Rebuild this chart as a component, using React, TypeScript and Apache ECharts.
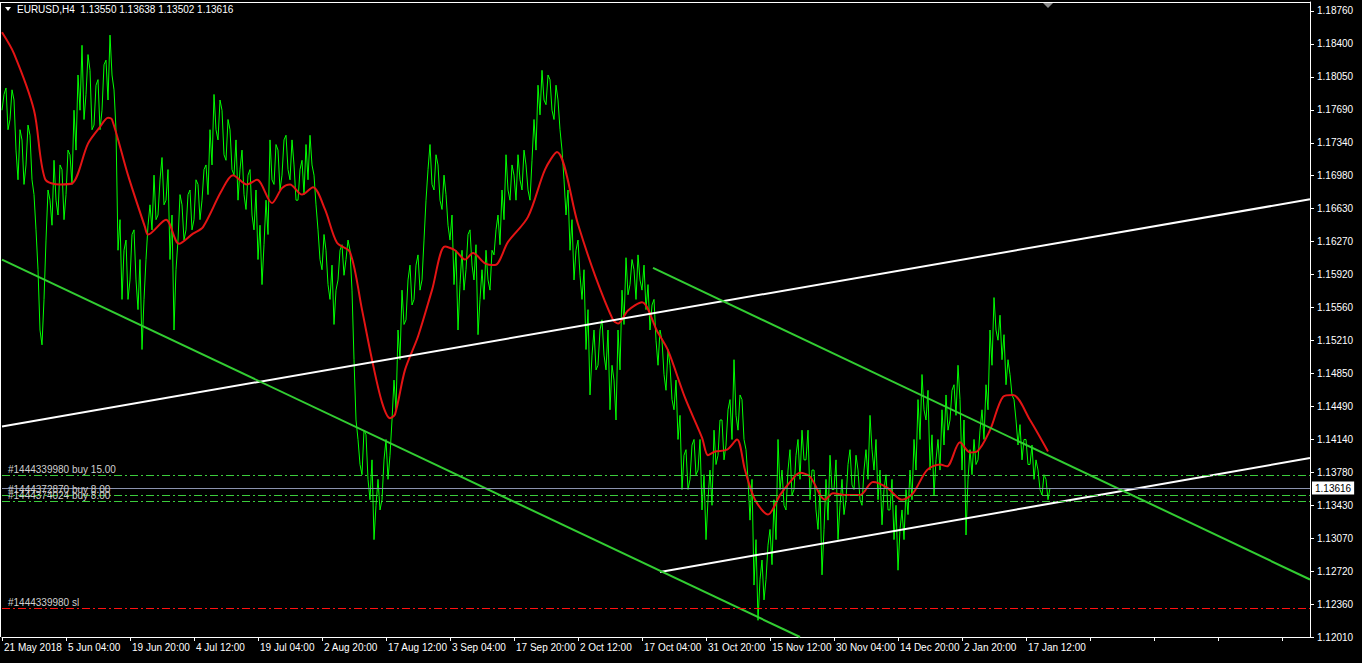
import React, { useEffect, useRef } from 'react';
import * as echarts from 'echarts';

const HEADER = 'EURUSD,H4  1.13550 1.13638 1.13502 1.13616';
const BID = 1.13616;
const BID_LABEL = '1.13616';
const BAR_STEP = 4;
const LAST_BAR = 1308;
const TIME_LABEL_EVERY = 64;

// H4 closes at bars 0, 4, 8, ...
const closes = [
  1.1769, 1.1793, 1.1759, 1.1780, 1.1694, 1.1737, 1.1710, 1.1742, 1.1678, 1.1597, 1.1516, 1.1629,
  1.1672, 1.1715, 1.1656, 1.1705, 1.1678, 1.1721, 1.1769, 1.1807, 1.1839, 1.1786,
  1.1812, 1.1753, 1.1802, 1.1769, 1.1823, 1.1850, 1.1791,
  1.1618, 1.1565, 1.1629, 1.1586, 1.1640, 1.1554, 1.1511, 1.1608,
  1.1667, 1.1699, 1.1656, 1.1718, 1.1672, 1.1608, 1.1532,
  1.1629, 1.1667, 1.1640, 1.1683, 1.1651, 1.1689, 1.1672, 1.1710, 1.1748,
  1.1786, 1.1737, 1.1769, 1.1715, 1.1748, 1.1699,
  1.1672, 1.1726, 1.1662, 1.1705, 1.1640, 1.1608, 1.1581, 1.1672, 1.1737, 1.1689, 1.1726, 1.1699,
  1.1742, 1.1694, 1.1710, 1.1672, 1.1715, 1.1732, 1.1742, 1.1699,
  1.1640, 1.1597, 1.1618, 1.1565, 1.1538,
  1.1586, 1.1624, 1.1608, 1.1618,
  1.1500, 1.1414, 1.1376, 1.1419, 1.1349, 1.1306,
  1.1371, 1.1349, 1.1414, 1.1397, 1.1478, 1.1532,
  1.1575, 1.1543, 1.1602, 1.1565, 1.1613, 1.1586,
  1.1672, 1.1732, 1.1683, 1.1710, 1.1662, 1.1678,
  1.1629, 1.1581, 1.1532, 1.1618, 1.1597, 1.1640, 1.1586, 1.1527, 1.1597,
  1.1618, 1.1575, 1.1613,
  1.1656, 1.1683, 1.1721, 1.1672, 1.1699, 1.1721, 1.1683, 1.1710, 1.1672,
  1.1759, 1.1796, 1.1812, 1.1775, 1.1802, 1.1759, 1.1780,
  1.1726, 1.1656, 1.1618, 1.1586, 1.1629,
  1.1565, 1.1511, 1.1462, 1.1532, 1.1494, 1.1543, 1.1489, 1.1446, 1.1478, 1.1532,
  1.1575, 1.1610, 1.1581, 1.1597, 1.1613, 1.1575, 1.1554,
  1.1532, 1.1565, 1.1494, 1.1521, 1.1467, 1.1494, 1.1446, 1.1414,
  1.1360, 1.1403, 1.1371, 1.1414, 1.1381, 1.1338, 1.1306, 1.1381, 1.1424, 1.1397,
  1.1435, 1.1408, 1.1457, 1.1500, 1.1424, 1.1457, 1.1403,
  1.1327, 1.1257, 1.1219, 1.1284, 1.1263,
  1.1317, 1.1349, 1.1414, 1.1381, 1.1338, 1.1403, 1.1360, 1.1414,
  1.1424, 1.1392, 1.1349, 1.1381, 1.1317, 1.1268, 1.1371, 1.1397, 1.1360, 1.1306,
  1.1371, 1.1349, 1.1403, 1.1360, 1.1381, 1.1343, 1.1403, 1.1440, 1.1381,
  1.1349, 1.1322, 1.1376, 1.1338, 1.1306, 1.1273,
  1.1338, 1.1360, 1.1381, 1.1414, 1.1457, 1.1484, 1.1435,
  1.1381, 1.1354, 1.1414, 1.1446, 1.1462, 1.1435, 1.1473, 1.1494, 1.1381,
  1.1311, 1.1403, 1.1414, 1.1392, 1.1446, 1.1473,
  1.1532, 1.1567, 1.1521, 1.1500,
  1.1473, 1.1484, 1.1457,
  1.1408, 1.1392, 1.1414, 1.1387, 1.1371, 1.1381, 1.1354, 1.1371, 1.13616,
];

// H4 closes at bars 2, 6, 10, ...
const closesMid = [
  1.1786, 1.1748, 1.1791, 1.1726, 1.1748, 1.1689, 1.1753, 1.1694, 1.1640, 1.1532, 1.1565, 1.1683,
  1.1645, 1.1672, 1.1710, 1.1651, 1.1726, 1.1689, 1.1726, 1.1769, 1.1759, 1.1829,
  1.1748, 1.1796, 1.1748, 1.1818, 1.1780, 1.1807, 1.1748,
  1.1651, 1.1618, 1.1565, 1.1635, 1.1586, 1.1608, 1.1565, 1.1645,
  1.1640, 1.1651, 1.1694, 1.1667, 1.1705, 1.1656, 1.1597,
  1.1678, 1.1629, 1.1678, 1.1640, 1.1694, 1.1651, 1.1705, 1.1678, 1.1710,
  1.1748, 1.1780, 1.1721, 1.1759, 1.1705, 1.1737,
  1.1705, 1.1678, 1.1699, 1.1656, 1.1683, 1.1645, 1.1624, 1.1635, 1.1694, 1.1732, 1.1683, 1.1737,
  1.1705, 1.1737, 1.1672, 1.1705, 1.1678, 1.1694, 1.1710, 1.1667,
  1.1608, 1.1635, 1.1581, 1.1602, 1.1575,
  1.1618, 1.1591, 1.1629, 1.1575,
  1.1435, 1.1387, 1.1424, 1.1371, 1.1392, 1.1343,
  1.1338, 1.1392, 1.1371, 1.1435, 1.1446, 1.1500,
  1.1538, 1.1586, 1.1559, 1.1602, 1.1575, 1.1629,
  1.1705, 1.1689, 1.1721, 1.1672, 1.1699, 1.1645,
  1.1656, 1.1618, 1.1581, 1.1575, 1.1635, 1.1602, 1.1624, 1.1565, 1.1565,
  1.1586, 1.1618, 1.1640,
  1.1624, 1.1651, 1.1683, 1.1710, 1.1672, 1.1694, 1.1726, 1.1683, 1.1715,
  1.1726, 1.1764, 1.1780, 1.1807, 1.1769, 1.1796, 1.1748,
  1.1694, 1.1683, 1.1651, 1.1618, 1.1591,
  1.1597, 1.1554, 1.1505, 1.1489, 1.1532, 1.1505, 1.1532, 1.1494, 1.1435, 1.1489,
  1.1538, 1.1570, 1.1608, 1.1565, 1.1586, 1.1602, 1.1581,
  1.1559, 1.1521, 1.1532, 1.1484, 1.1511, 1.1457, 1.1478, 1.1440,
  1.1397, 1.1360, 1.1408, 1.1376, 1.1414, 1.1376, 1.1349, 1.1343, 1.1387, 1.1435,
  1.1392, 1.1446, 1.1414, 1.1440, 1.1462, 1.1414, 1.1371,
  1.1371, 1.1306, 1.1263, 1.1241, 1.1300,
  1.1279, 1.1306, 1.1360, 1.1343, 1.1381, 1.1354, 1.1397, 1.1371,
  1.1392, 1.1424, 1.1381, 1.1338, 1.1360, 1.1317, 1.1327, 1.1360, 1.1392, 1.1343,
  1.1333, 1.1387, 1.1365, 1.1397, 1.1349, 1.1381, 1.1371, 1.1403, 1.1414,
  1.1381, 1.1360, 1.1338, 1.1371, 1.1343, 1.1317,
  1.1306, 1.1333, 1.1349, 1.1381, 1.1414, 1.1446, 1.1467,
  1.1419, 1.1392, 1.1381, 1.1408, 1.1424, 1.1467, 1.1440, 1.1457, 1.1435,
  1.1371, 1.1376, 1.1387, 1.1424, 1.1414, 1.1446,
  1.1494, 1.1532, 1.1548, 1.1527,
  1.1500, 1.1462, 1.1435,
  1.1430, 1.1414, 1.1387, 1.1408, 1.1392, 1.1360, 1.1376, 1.1349,
];

// moving average (red), bar index and value
const maBars = [0, 12, 32, 43, 58, 70, 86, 98, 106, 110, 126, 143, 146, 164, 177, 191, 201, 219, 231, 245,
  255, 270, 280, 288, 300, 311, 323, 335, 348, 360, 370, 380, 388, 393, 403, 416, 430, 443, 453, 463,
  471, 483, 493, 506, 526, 543, 555, 576, 593, 611, 616, 626, 640, 655, 666, 683, 700, 706, 713, 725,
  735, 743, 753, 766, 778, 788, 798, 808, 823, 831, 845, 858, 871, 885, 900, 911, 925, 938, 945, 958,
  968, 975, 988, 1001, 1011, 1028, 1046];
const maValues = [1.1853, 1.1830, 1.1769, 1.1695, 1.1689, 1.1690, 1.1733, 1.1751, 1.1761, 1.1759,
  1.1699, 1.1643, 1.1635, 1.1651, 1.1625, 1.1636, 1.1643, 1.1681, 1.1699, 1.1689,
  1.1694, 1.1669, 1.1685, 1.1689, 1.1678, 1.1686, 1.1662, 1.1626, 1.1616, 1.1554,
  1.1500, 1.1454, 1.1437, 1.1441, 1.1489, 1.1525, 1.1575, 1.1622, 1.1618, 1.1608,
  1.1615, 1.1604, 1.1602, 1.1627, 1.1654, 1.1705, 1.1724, 1.1646, 1.1591, 1.1543,
  1.1539, 1.1553, 1.1562, 1.1531, 1.1510, 1.1459, 1.1416, 1.1397, 1.1401, 1.1403,
  1.1414, 1.1381, 1.1349, 1.1333, 1.1354, 1.1368, 1.1378, 1.1374, 1.1349, 1.1356,
  1.1354, 1.1354, 1.1368, 1.1362, 1.1349, 1.1356, 1.1381, 1.1387, 1.1385, 1.1411,
  1.1400, 1.1401, 1.1424, 1.1460, 1.1462, 1.1435, 1.1401];

const timeLabels = ['21 May 2018', '5 Jun 04:00', '19 Jun 20:00', '4 Jul 12:00', '19 Jul 04:00',
  '2 Aug 20:00', '17 Aug 12:00', '3 Sep 04:00', '17 Sep 20:00', '2 Oct 12:00', '17 Oct 04:00',
  '31 Oct 20:00', '15 Nov 12:00', '30 Nov 04:00', '14 Dec 20:00', '2 Jan 20:00', '17 Jan 12:00'];

const priceLabels = ['1.12010', '1.12360', '1.12720', '1.13070', '1.13430', '1.13780', '1.14140',
  '1.14490', '1.14850', '1.15210', '1.15560', '1.15920', '1.16270', '1.16630', '1.16980', '1.17340',
  '1.17690', '1.18050', '1.18400', '1.18760'];
const PRICE_MIN = 1.1201;
const PRICE_LABEL_TOP = 1.1876;
const PRICE_MAX = 1.18857;

// trend lines: [bar, price]
const whiteLong = [[0, 1.1428], [1308, 1.1673]];
const whiteShort = [[658, 1.1271], [1308, 1.1394]];
const greenLong = [[0, 1.1608], [798, 1.1201]];
const greenShort = [[651, 1.1599], [1308, 1.1263]];

const orderNames = ['#1444339980 buy 15.00', '#1444372870 buy 8.00', '#1444374024 buy 8.00'];
const orderPrices = [1.1375, 1.1354, 1.1347];
const slName = '#1444339980 sl';
const slPrice = 1.1232;

const FONT = "'Liberation Sans', Arial, sans-serif";

export default function App() {
  const ref = useRef<HTMLDivElement>(null);
  useEffect(() => {
    document.body.style.margin = '0';
    document.body.style.background = '#000';
    const chart = echarts.init(ref.current!, null, { renderer: 'svg' });
    const labelSteps = priceLabels.length - 1;
    const stepSize = (PRICE_LABEL_TOP - PRICE_MIN) / labelSteps;
    const labelAxisMax = (PRICE_MAX - PRICE_MIN) / stepSize;

    const priceData: number[][] = [];
    closes.forEach((v, k) => {
      priceData.push([k * BAR_STEP, v]);
      if (k < closesMid.length) priceData.push([k * BAR_STEP + BAR_STEP / 2, closesMid[k]]);
    });
    const maData = maBars.map((b, k) => [b, maValues[k]]);

    const trend = (data: number[][], color: string) => ({
      type: 'line', data, symbol: 'none', silent: true,
      lineStyle: { color, width: 2 }, z: 4,
    });

    const orderLine = (name: string, price: number, color: string) => ({
      yAxis: price,
      lineStyle: { color, width: 1, type: [8, 3, 2, 3], opacity: 1 },
      label: {
        show: true, position: 'insideStartTop', formatter: name, color: '#d0d0d0',
        fontSize: 10, fontFamily: FONT, distance: [6, 1],
      },
    });

    chart.setOption({
      animation: false,
      backgroundColor: '#000',
      grid: { left: 2, right: 52, top: 2, bottom: 26 },
      xAxis: {
        type: 'value', min: 0, max: LAST_BAR, interval: TIME_LABEL_EVERY,
        axisLine: { lineStyle: { color: '#fff', width: 1 } },
        axisTick: { show: true, length: 4, lineStyle: { color: '#fff' } },
        splitLine: { show: false },
        axisLabel: {
          color: '#fff', fontSize: 10, fontFamily: FONT, align: 'left', margin: 5,
          showMaxLabel: false, padding: [0, 0, 0, 2],
          formatter: (v: number) => (v % TIME_LABEL_EVERY === 0 ? timeLabels[v / TIME_LABEL_EVERY] ?? '' : ''),
        },
      },
      yAxis: [
        { type: 'value', min: PRICE_MIN, max: PRICE_MAX, show: false, splitLine: { show: false } },
        {
          type: 'value', position: 'right', min: 0, max: labelAxisMax, interval: 1,
          axisLine: { show: true, lineStyle: { color: '#fff', width: 1 } },
          axisTick: { show: true, length: 4, lineStyle: { color: '#fff' } },
          splitLine: { show: false },
          axisLabel: {
            color: '#fff', fontSize: 10, fontFamily: FONT, margin: 7, showMaxLabel: false,
            formatter: (t: number) => {
              const r = Math.round(t);
              return Math.abs(t - r) < 1e-6 ? priceLabels[r] ?? '' : '';
            },
          },
        },
      ],
      series: [
        {
          type: 'line', data: priceData, symbol: 'none', silent: true,
          lineStyle: { color: '#00ff00', width: 1 }, z: 2,
          markLine: {
            symbol: 'none', silent: true, animation: false, precision: 5,
            data: [
              ...orderNames.map((n, k) => orderLine(n, orderPrices[k], '#3ccc3c')),
              orderLine(slName, slPrice, '#ff1010'),
              {
                yAxis: BID,
                lineStyle: { color: '#8c94b0', width: 1, type: 'solid' },
                label: {
                  show: true, position: 'end', formatter: BID_LABEL, color: '#000',
                  backgroundColor: '#fff', padding: [2, 3, 1, 3], fontSize: 10, fontFamily: FONT, distance: 2,
                },
              },
            ],
          },
        },
        {
          type: 'line', data: maData, symbol: 'none', silent: true, smooth: 0.3,
          lineStyle: { color: '#e41414', width: 2 }, z: 3,
        },
        trend(whiteLong, '#ffffff'),
        trend(whiteShort, '#ffffff'),
        trend(greenLong, '#32cd32'),
        trend(greenShort, '#32cd32'),
      ],
      graphic: [
        { type: 'line', shape: { x1: 0.5, y1: 2, x2: 0.5, y2: 637 }, style: { stroke: '#fff', lineWidth: 1 }, silent: true },
        { type: 'line', shape: { x1: 0, y1: 2.5, x2: 1310, y2: 2.5 }, style: { stroke: '#fff', lineWidth: 1 }, silent: true },
        { type: 'polygon', shape: { points: [[5, 7], [11, 7], [8, 11]] }, style: { fill: '#fff' }, silent: true },
        { type: 'polygon', shape: { points: [[1043, 3], [1053, 3], [1048, 8]] }, style: { fill: '#8c8c8c' }, silent: true },
        {
          type: 'text', left: 17, top: 4, silent: true,
          style: { text: HEADER, fill: '#fff', fontSize: 10, fontFamily: FONT },
        },
      ],
    });
    return () => chart.dispose();
  }, []);
  return <div ref={ref} style={{ width: 1362, height: 663, background: '#000' }} />;
}
